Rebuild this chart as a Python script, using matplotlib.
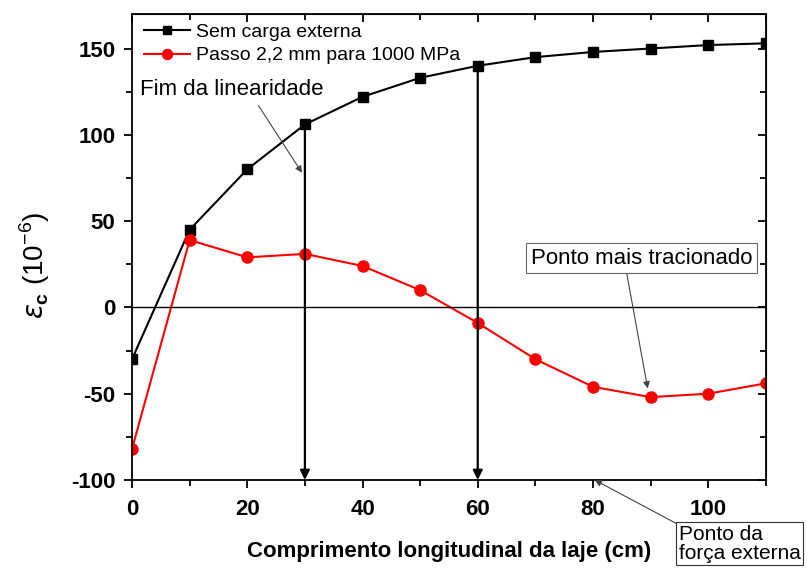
import matplotlib
matplotlib.use("Agg")
import matplotlib.pyplot as plt
from matplotlib.ticker import MultipleLocator

plt.rcParams['font.family'] = ['Liberation Sans', 'DejaVu Sans']
plt.rcParams['mathtext.fontset'] = 'custom'
plt.rcParams['mathtext.rm'] = 'Liberation Sans'
plt.rcParams['mathtext.bf'] = 'Liberation Sans:bold'
plt.rcParams['axes.unicode_minus'] = False

x = [0, 10, 20, 30, 40, 50, 60, 70, 80, 90, 100, 110]
sem_carga = [-30, 45, 80, 106, 122, 133, 140, 145, 148, 150, 152, 153]
passo = [-82, 39, 29, 31, 24, 10, -9, -30, -46, -52, -50, -44]
label_sem = "Sem carga externa"
label_passo = "Passo 2,2 mm para 1000 MPa"
arrow_x = [30, 60]

fig = plt.figure(figsize=(8.07, 5.71), dpi=100)
ax = fig.add_axes([0.1636, 0.1594, 0.7854, 0.8161])

ax.plot(x, sem_carga, color='black', marker='s', markersize=7, lw=1.5, label=label_sem)
ax.plot(x, passo, color='red', marker='o', markersize=8, lw=1.5, label=label_passo)
ax.axhline(0, color='black', lw=1)

ax.set_xlim(0, 110)
ax.set_ylim(-100, 170)
ax.xaxis.set_major_locator(MultipleLocator(20))
ax.xaxis.set_minor_locator(MultipleLocator(10))
ax.yaxis.set_major_locator(MultipleLocator(50))
ax.yaxis.set_minor_locator(MultipleLocator(25))

ax.tick_params(which='both', direction='out', top=False, right=False, width=1.3)
ax.tick_params(which='major', length=6, labelsize=16)
ax.tick_params(which='minor', length=4)
ax.tick_params(axis='x', which='major', pad=8)
ax.tick_params(axis='y', which='major', pad=6)
for lab in ax.get_xticklabels() + ax.get_yticklabels():
    lab.set_fontweight('bold')

# top and right ticks inward
ax2 = ax.secondary_xaxis('top')
ax2.xaxis.set_major_locator(MultipleLocator(20))
ax2.xaxis.set_minor_locator(MultipleLocator(10))
ax2.tick_params(which='both', direction='in', labeltop=False, width=1.3)
ax2.tick_params(which='major', length=6)
ax2.tick_params(which='minor', length=4)
ax3 = ax.secondary_yaxis('right')
ax3.yaxis.set_major_locator(MultipleLocator(50))
ax3.yaxis.set_minor_locator(MultipleLocator(25))
ax3.tick_params(which='both', direction='in', labelright=False, width=1.3)
ax3.tick_params(which='major', length=6)
ax3.tick_params(which='minor', length=4)

for s in ax.spines.values():
    s.set_linewidth(1.3)

ax.set_xlabel("Comprimento longitudinal da laje (cm)", fontsize=16, fontweight='bold', labelpad=15)
ax.set_ylabel(r"$\varepsilon_\mathbf{c}$ (10$^{-6}$)", fontsize=20)
ax.yaxis.set_label_coords(-0.126, 0.46)

leg = ax.legend(loc='upper left', frameon=False, fontsize=14, handlelength=2.4,
                borderaxespad=0.2, handletextpad=0.3, labelspacing=0.3,
                bbox_to_anchor=(0.0, 1.005), markerscale=0.9)

# vertical arrows
for xv in arrow_x:
    yv = sem_carga[x.index(xv)]
    ax.annotate("", xy=(xv, -100), xytext=(xv, yv),
                arrowprops=dict(arrowstyle='-|>', color='black', lw=1.6,
                                mutation_scale=14, shrinkA=0, shrinkB=0))

ax.annotate("Fim da linearidade", xy=(29.5, 78), xytext=(1.3, 126),
            fontsize=16, va='center', ha='left',
            arrowprops=dict(arrowstyle='-|>', color='#444444', lw=0.8,
                            mutation_scale=10, shrinkA=2, shrinkB=0,
                            relpos=(0.63, 0.0)))

ax.annotate("Ponto mais tracionado", xy=(89.5, -47), xytext=(88.4, 28.5),
            fontsize=16, va='center', ha='center',
            bbox=dict(boxstyle='square,pad=0.2', fc='white', ec='#666666', lw=0.8),
            arrowprops=dict(arrowstyle='-|>', color='#444444', lw=0.8,
                            mutation_scale=10, shrinkA=0, shrinkB=0,
                            relpos=(0.43, 0.0)))

ax.annotate("Ponto da\nforça externa", xy=(80.3, -100), xytext=(94.9, -137),
            fontsize=15, va='center', ha='left', linespacing=1.0,
            annotation_clip=False,
            bbox=dict(boxstyle='square,pad=0.12', fc='white', ec='#333333', lw=0.8),
            arrowprops=dict(arrowstyle='-|>', color='#444444', lw=0.8,
                            mutation_scale=10, shrinkA=0, shrinkB=0,
                            relpos=(0.0, 1.0)))

fig.savefig("out.png", dpi=100)
